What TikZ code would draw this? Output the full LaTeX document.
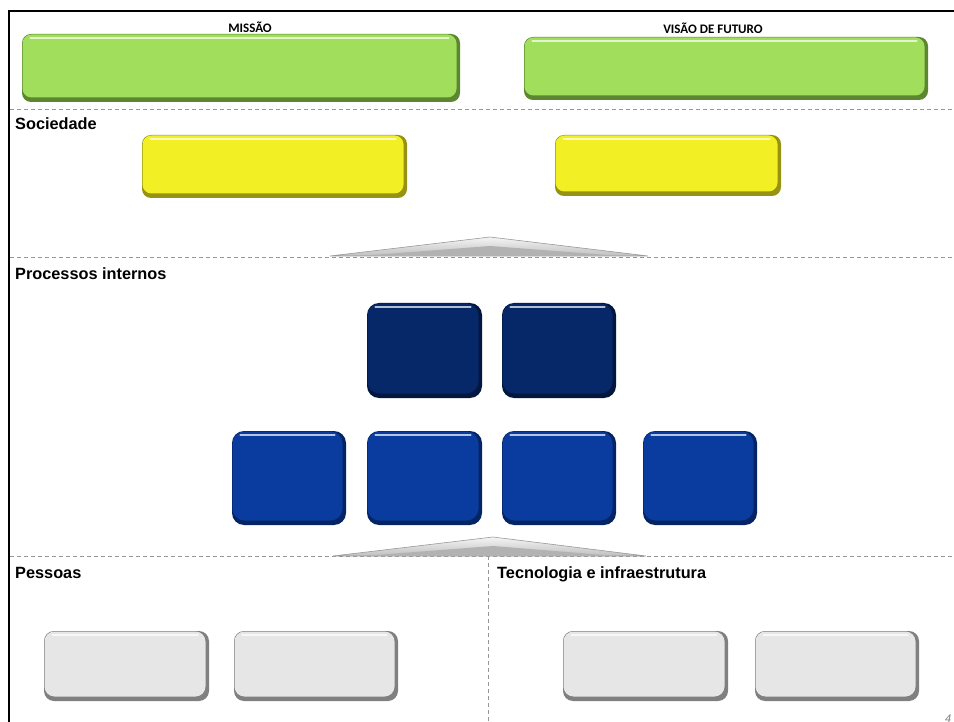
\documentclass[tikz,border=0pt]{standalone}
\usepackage{fontspec}
\setmainfont{Liberation Sans}
\newfontfamily\calibri{Carlito}
\definecolor{grmain}{RGB}{160,222,92}
\definecolor{grdark}{RGB}{92,134,48}
\definecolor{ylmain}{RGB}{242,240,36}
\definecolor{yldark}{RGB}{150,146,20}
\definecolor{dbmain}{RGB}{6,40,104}
\definecolor{dbdark}{RGB}{2,22,64}
\definecolor{bmain}{RGB}{10,60,160}
\definecolor{bdark}{RGB}{5,36,100}
\definecolor{gymain}{RGB}{230,230,230}
\definecolor{gydark}{RGB}{128,128,128}
\definecolor{sepgray}{RGB}{150,150,150}
\newcommand{\bevbox}[8]{%
  \fill[#7, rounded corners=#8] (#2,#3) rectangle (#4,#5);
  \node[bevnode, fill=#6, rounded corners=#8, minimum width={#4-#2-4}, minimum height={#5-#3-5}]
     (#1) at ({(#2+#4)/2-1.5},{(#3+#5)/2-2}) {};
  \draw[white, line width=2.5pt, opacity=0.7, line cap=round]
     ([xshift=8pt,yshift=-3.5pt]#1.north west) -- ([xshift=-8pt,yshift=-3.5pt]#1.north east);
}
\begin{document}
\begin{tikzpicture}[x=1pt,y=-1pt,
  bevnode/.style={inner sep=0pt, outer sep=0pt, draw=none},
  seplabel/.style={anchor=base west, inner sep=0pt, font=\fontsize{16.3}{19}\selectfont\bfseries},
  toplabel/.style={inner sep=0pt, font=\calibri\fontsize{13}{15}\selectfont\bfseries},
  sep/.style={sepgray, line width=0.8pt, dash pattern=on 4pt off 3pt},
  tri/.style={draw=gray!80, line width=0.6pt, top color=gray!8, bottom color=gray!50}]
\useasboundingbox (0,0) rectangle (954,722);
% frame
\draw[black, line width=2pt] (954,11) -- (9,11) -- (9,722);
% separators
\coordinate (s1a) at (10,109); \coordinate (s1b) at (954,109);
\coordinate (s2a) at (10,257); \coordinate (s2b) at (954,257);
\coordinate (s3a) at (10,556); \coordinate (s3b) at (954,556);
\coordinate (v1a) at (488,556); \coordinate (v1b) at (488,722);
\draw[sep] (s1a) -- (s1b);
\draw[sep] (s2a) -- (s2b);
\draw[sep] (s3a) -- (s3b);
\draw[sep] (v1a) -- (v1b);
% labels
\node[toplabel] (lmis) at (250,27) {MISSÃO};
\node[toplabel] (lvis) at (713,28) {VISÃO DE FUTURO};
\node[seplabel] (lsoc) at (15,130) {Sociedade};
\node[seplabel] (lpro) at (15,280) {Processos internos};
\node[seplabel] (lpes) at (15,578) {Pessoas};
\node[seplabel] (ltec) at (497,578) {Tecnologia e infraestrutura};
\node[anchor=base west, inner sep=0pt, text=gray, font=\fontsize{11}{13}\selectfont\itshape] (pg) at (945,722) {4};
% green
\bevbox{mis}{22}{34}{460}{102}{grmain}{grdark}{9pt}
\bevbox{vis}{524}{37}{928}{100}{grmain}{grdark}{9pt}
% yellow
\bevbox{soc1}{142}{135}{407}{198}{ylmain}{yldark}{9pt}
\bevbox{soc2}{555}{135}{781}{196}{ylmain}{yldark}{9pt}
% triangles
\path[tri] (330,256) -- (490,237) -- (648,256) -- cycle;
\fill[gray!60] (360,256) -- (490,246) -- (620,256) -- cycle;
\path[tri] (333,556) -- (493,537) -- (646,556) -- cycle;
\fill[gray!60] (363,556) -- (493,546) -- (616,556) -- cycle;
% dark blue
\bevbox{p1}{367}{303}{482}{398}{dbmain}{dbdark}{12pt}
\bevbox{p2}{502}{303}{616}{398}{dbmain}{dbdark}{12pt}
% blue
\bevbox{q1}{232}{431}{346}{525}{bmain}{bdark}{12pt}
\bevbox{q2}{367}{431}{482}{525}{bmain}{bdark}{12pt}
\bevbox{q3}{502}{431}{616}{525}{bmain}{bdark}{12pt}
\bevbox{q4}{643}{431}{757}{525}{bmain}{bdark}{12pt}
% gray
\bevbox{g1}{44}{631}{209}{701}{gymain}{gydark}{10pt}
\bevbox{g2}{234}{631}{398}{701}{gymain}{gydark}{10pt}
\bevbox{g3}{563}{631}{728}{701}{gymain}{gydark}{10pt}
\bevbox{g4}{755}{631}{919}{701}{gymain}{gydark}{10pt}
\end{tikzpicture}
\end{document}
